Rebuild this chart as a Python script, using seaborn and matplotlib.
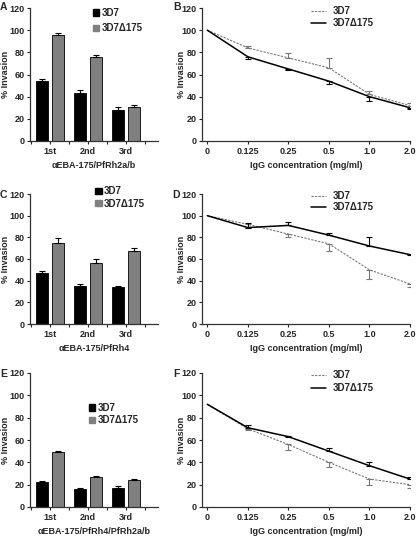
import numpy as np
import pandas as pd
import matplotlib
matplotlib.use("Agg")
import matplotlib.pyplot as plt
from matplotlib.lines import Line2D
from matplotlib.patches import Patch
import seaborn as sns

sns.set_style("ticks")
plt.rcParams['font.family'] = ['Liberation Sans', 'DejaVu Sans']
plt.rcParams['font.weight'] = 'bold'

# ---------------- data ----------------
rounds = ["1st", "2nd", "3rd"]
strains = ["3D7", "3D7\u0394175"]

bar_A_3d7 = [54, 43, 28]
bar_A_d175 = [96, 76, 31]
err_A_3d7 = [2, 3, 3]
err_A_d175 = [1.5, 2, 1.5]

bar_C_3d7 = [47, 35, 34]
bar_C_d175 = [75, 56, 67]
err_C_3d7 = [2, 1.5, 0.8]
err_C_d175 = [4.5, 4, 3.5]

bar_E_3d7 = [22, 16, 17]
bar_E_d175 = [49, 27, 24]
err_E_3d7 = [1, 0.8, 1.5]
err_E_d175 = [1, 0.8, 0.8]

bar_xlabels = ["\u03b1EBA-175/PfRh2a/b", "\u03b1EBA-175/PfRh4", "\u03b1EBA-175/PfRh4/PfRh2a/b"]

conc_labels = ["0", "0.125", "0.25", "0.5", "1.0", "2.0"]

line_B_3d7 = [100, 84, 75, 66, 42, 32]
line_B_d175 = [100, 76, 65, 54, 40, 30]
err_B_3d7 = [0, 2, 4, 9, 3, 2]
err_B_d175 = [0, 2, 1, 3, 4, 1.5]

line_D_3d7 = [100, 92, 83, 74, 50, 37]
line_D_d175 = [100, 89, 91, 82, 72, 64]
err_D_3d7 = [0, 3.5, 2.5, 7, 8, 3]
err_D_d175 = [0, 4, 3, 2, 8, 1]

line_F_3d7 = [92, 70, 56, 40, 25, 20]
line_F_d175 = [92, 71, 63, 50, 37, 25]
err_F_3d7 = [0, 1, 5, 4, 5, 3]
err_F_d175 = [0, 2, 1, 2.5, 3, 2]

# error bar direction (+1 up, -1 down) per panel and strain
dir_B = (+1, -1)
dir_D = (-1, +1)
dir_F = (-1, +1)

W, H = 416, 536
fig = plt.figure(figsize=(W / 100, H / 100), dpi=100)

def ax_at(x0, y0, x1, y1):
    return fig.add_axes([x0 / W, 1 - y1 / H, (x1 - x0) / W, (y1 - y0) / H])

FS = 6.5
LFS = 7
GREY = "#808080"
DASH = (0, (2, 1.2))

def style(ax, lab_x):
    sns.despine(ax=ax)
    ax.set_ylim(0, 120)
    ax.set_yticks(range(0, 121, 20))
    ax.tick_params(axis='both', length=2.5, width=0.8, labelsize=FS, pad=1.5)
    for s in ("left", "bottom"):
        ax.spines[s].set_linewidth(0.9)
        ax.spines[s].set_color("#333333")
    ax.set_ylabel("% Invasion", fontsize=FS, fontweight='bold')
    ax.yaxis.set_label_coords(lab_x, 0.5)
    for lab in ax.get_yticklabels() + ax.get_xticklabels():
        lab.set_fontweight('bold')

def bar_panel(ax, v1, v2, e1, e2, xlabel, leg_xy, lsp):
    df = pd.DataFrame({
        "round": rounds * 2,
        "strain": [strains[0]] * 3 + [strains[1]] * 3,
        "value": v1 + v2,
    })
    sns.barplot(data=df, x="round", y="value", hue="strain", order=rounds,
                hue_order=strains, palette=["#000000", GREY], width=0.84,
                gap=0.25, edgecolor="black", linewidth=0.6, errorbar=None,
                legend=False, ax=ax)
    for cont, vals, errs in zip(ax.containers, (v1, v2), (e1, e2)):
        xs = [p.get_x() + p.get_width() / 2 for p in cont]
        ax.errorbar(xs, vals, yerr=[np.zeros(3), errs], fmt="none",
                    ecolor="black", elinewidth=0.8, capsize=2.5, capthick=0.8)
    ax.set_xlim(-0.53, 2.84)
    ax.set_xticks([0, 1, 2])
    ax.set_xticklabels(rounds)
    ax.set_xticks([-0.5, 0.5, 1.5, 2.5], minor=True)
    ax.tick_params(axis='x', which='major', length=0, pad=5)
    ax.tick_params(axis='x', which='minor', length=2.5, width=0.8)
    ax.set_xlabel(xlabel, fontsize=FS, fontweight='bold', labelpad=4)
    style(ax, -0.16)
    handles = [Patch(facecolor="black", edgecolor="black"),
               Patch(facecolor=GREY, edgecolor=GREY)]
    ax.legend(handles, strains, loc="upper left", bbox_to_anchor=leg_xy,
              frameon=False, handlelength=0.65, handleheight=0.65,
              handletextpad=0.25, labelspacing=lsp, borderaxespad=0,
              borderpad=0, prop={'weight': 'bold', 'size': LFS})

def line_panel(ax, l1, l2, e1, e2, dirs, leg_xy, lsp):
    xi = list(range(len(conc_labels)))
    df = pd.DataFrame({"x": xi * 2,
                       "y": l1 + l2,
                       "strain": [strains[0]] * 6 + [strains[1]] * 6})
    sns.lineplot(data=df[df.strain == strains[0]], x="x", y="y", color="#777777",
                 linestyle=DASH, linewidth=0.8, ax=ax)
    sns.lineplot(data=df[df.strain == strains[1]], x="x", y="y", color="black",
                 linewidth=1.1, ax=ax)
    for vals, errs, d, col in ((l1, e1, dirs[0], "#777777"), (l2, e2, dirs[1], "black")):
        xs = xi[1:]
        v = vals[1:]
        e = errs[1:]
        z = np.zeros(len(e))
        yerr = [z, e] if d > 0 else [e, z]
        ax.errorbar(xs, v, yerr=yerr, fmt="none", ecolor=col,
                    elinewidth=0.8, capsize=2.5, capthick=0.8)
    ax.set_xlim(-0.13, 5.0)
    ax.set_xticks(xi)
    ax.set_xticklabels(conc_labels)
    ax.set_xlabel("IgG concentration (mg/ml)", fontsize=FS,
                  fontweight='bold', labelpad=4)
    ax.tick_params(axis='x', pad=4)
    style(ax, -0.077)
    handles = [Line2D([], [], color="#777777", linestyle=DASH, linewidth=0.8),
               Line2D([], [], color="black", linewidth=1.1)]
    ax.legend(handles, strains, loc="upper left", bbox_to_anchor=leg_xy,
              frameon=False, handlelength=1.55, handletextpad=0.7,
              labelspacing=lsp, borderaxespad=0, borderpad=0,
              prop={'weight': 'bold', 'size': LFS})

axA = ax_at(30, 8, 158, 141)
axB = ax_at(202, 8, 410, 141)
axC = ax_at(30, 194, 158, 324)
axD = ax_at(202, 194, 410, 324)
axE = ax_at(30, 373, 158, 507)
axF = ax_at(202, 373, 410, 507)

bar_panel(axA, bar_A_3d7, bar_A_d175, err_A_3d7, err_A_d175, bar_xlabels[0], (0.49, 1.0), 0.55)
bar_panel(axC, bar_C_3d7, bar_C_d175, err_C_3d7, err_C_d175, bar_xlabels[1], (0.51, 1.06), 0.25)
bar_panel(axE, bar_E_3d7, bar_E_d175, err_E_3d7, err_E_d175, bar_xlabels[2], (0.46, 0.776), 0.25)
line_panel(axB, line_B_3d7, line_B_d175, err_B_3d7, err_B_d175, dir_B, (0.524, 1.015), 0.25)
line_panel(axD, line_D_3d7, line_D_d175, err_D_3d7, err_D_d175, dir_D, (0.524, 1.023), 0.15)
line_panel(axF, line_F_3d7, line_F_d175, err_F_3d7, err_F_d175, dir_F, (0.524, 1.022), 0.35)

for lab, (x, y) in zip("ABCDEF", [(0, 2), (173, 2), (0, 190), (172, 190), (0, 369), (173, 369)]):
    fig.text(x / W, 1 - y / H, lab, fontsize=7.5, fontweight='bold', va='top', ha='left')

fig.savefig("out.png", dpi=100)
